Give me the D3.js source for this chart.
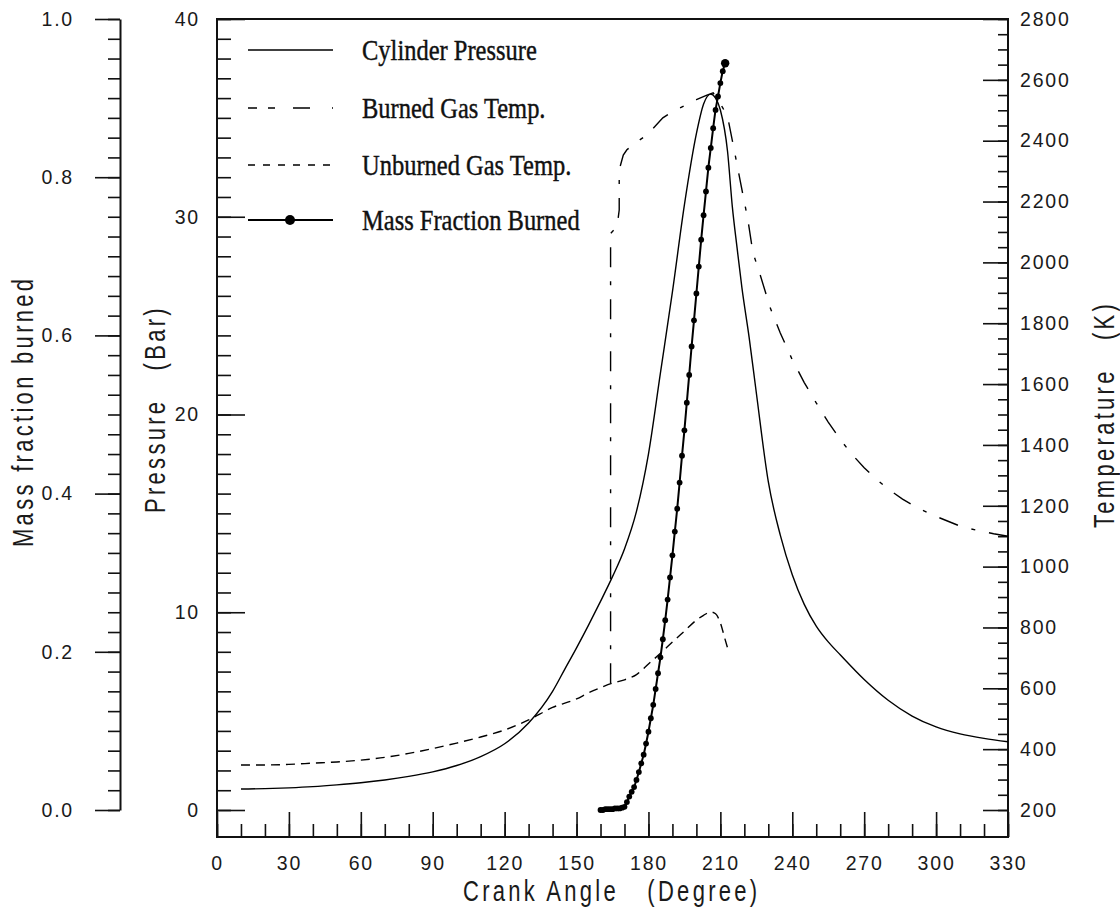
<!DOCTYPE html>
<html><head><meta charset="utf-8">
<script src="https://cdn.jsdelivr.net/npm/d3@7"></script>
<style>
html,body{margin:0;padding:0;background:#fff;}
svg{display:block;}
.tick text{font-family:"Liberation Sans",Arial,sans-serif;font-size:19.5px;letter-spacing:1.8px;fill:#1a1a1a;}
.tick line{stroke:#111;stroke-width:1.6px;}
.ttl{font-family:"Liberation Sans",Arial,sans-serif;font-size:22px;letter-spacing:3.3px;fill:#1a1a1a;white-space:pre;}
.leg{font-family:"Liberation Serif","Times New Roman",serif;font-size:24.5px;fill:#111;stroke:#111;stroke-width:0.35px;white-space:pre;}
</style></head><body>
<svg id="chart" width="1120" height="908"></svg>
<script>
// ---------- data ----------
const angleTicks = [0,30,60,90,120,150,180,210,240,270,300,330];
const pressureTicks = [0,10,20,30,40];
const tempTicks = [200,400,600,800,1000,1200,1400,1600,1800,2000,2200,2400,2600,2800];
const mfbTicks = [0,0.2,0.4,0.6,0.8,1.0];

const legendLabels = ["Cylinder Pressure","Burned Gas Temp.","Unburned Gas Temp.","Mass Fraction Burned"];

// Cylinder pressure (bar) vs crank angle (deg)
const angleP = [10,20,30,40,50,60,70,80,90,100,110,120,130,140,145,150,155,160,165,170,175,180,185,190,195,200,203,206,208,210,213,215,217,219,222,225,230,235,240,245,250,255,260,270,280,290,300,310,320,330];
const pressure = [1.06,1.08,1.12,1.18,1.27,1.38,1.52,1.70,1.93,2.25,2.70,3.35,4.4,6.0,7.1,8.2,9.35,10.55,11.8,13.2,15.1,18.0,22.1,26.2,30.6,34.2,35.7,36.2,36.0,35.4,33.3,30.5,28.4,26.4,23.9,21.1,16.6,13.9,11.9,10.4,9.3,8.5,7.85,6.6,5.55,4.75,4.2,3.85,3.62,3.45];

// Burned gas temperature (K)
const angleB = [164.2,164.2,166.9,167.8,167.8,169.5,171,175,179.4,186,190,195,200,204.4,207,209,211,213,215,217,218.2,221.5,223.6,226,230.7,235,240,245,250,255,260,265,270,275,280,286,293,300,311,318,324,330];
const burnedT = [617,2095,2117,2172,2304,2353,2370,2395,2419,2475,2495,2515,2535,2550,2557,2535,2508,2480,2400,2320,2271,2139,2031,1975,1853,1768,1680,1605,1538,1475,1418,1368,1325,1288,1255,1222,1190,1165,1130,1118,1108,1100];

// Unburned gas temperature (K)
const angleU = [10,20,30,40,50,60,70,80,90,100,110,120,130,140,150,155,160,165,170,175,180,185,190,195,200,203,206,208,210,212,213];
const unburnedT = [348,348,350,354,358,364,373,386,402,420,440,463,496,537,565,585,602,617,628,645,680,715,752,788,824,840,851,845,815,760,733];

// Mass fraction burned
const angleM = [160,161,162,163,164,165,166,167,168,169,170,171,172,173,174,175,176,177,178,179,180,181,182,183,184,185,186,187,188,189,190,191,192,193,194,195,196,197,198,199,200,201,202,203,204,205,206,207,208,209,210,211,212];
const mfb = [0.000,0.000,0.001,0.001,0.001,0.001,0.002,0.002,0.002,0.003,0.004,0.010,0.017,0.023,0.029,0.038,0.048,0.059,0.070,0.084,0.099,0.116,0.133,0.153,0.173,0.193,0.216,0.240,0.266,0.294,0.322,0.352,0.381,0.414,0.448,0.480,0.515,0.550,0.586,0.619,0.653,0.687,0.721,0.752,0.782,0.812,0.837,0.862,0.885,0.902,0.919,0.934,0.944];

// ---------- chart ----------
const svg = d3.select("#chart");
const L = 217, R = 1008, T = 19, B = 837, Y0 = 810;
const x = d3.scaleLinear().domain([0,330]).range([L,R]);
const yP = d3.scaleLinear().domain([0,40]).range([Y0,T]);
const yT = d3.scaleLinear().domain([200,2800]).range([Y0,T]);
const yM = d3.scaleLinear().domain([0,1]).range([Y0,T]);

svg.append("rect").attr("width",1120).attr("height",908).attr("fill","#fff");

function minorVals(a,b,s){const v=[];for(let t=a;t<=b+1e-9;t+=s)v.push(+t.toFixed(4));return v;}

// bottom axis
svg.append("g").attr("transform",`translate(0,${B})`)
  .call(d3.axisBottom(x).tickValues(minorVals(0,330,10)).tickSize(-13).tickFormat(""))
  .call(g=>g.select(".domain").remove());
svg.append("g").attr("transform",`translate(0,${B})`)
  .call(d3.axisBottom(x).tickValues(angleTicks).tickSize(-25).tickSizeOuter(0).tickPadding(19).tickFormat(d3.format("d")))
  .call(g=>g.select(".domain").remove());

// pressure axis
svg.append("g").attr("transform",`translate(${L},0)`)
  .call(d3.axisLeft(yP).tickValues(minorVals(0,40,1)).tickSize(-14).tickFormat(""))
  .call(g=>g.select(".domain").remove());
svg.append("g").attr("transform",`translate(${L},0)`)
  .call(d3.axisLeft(yP).tickValues(pressureTicks).tickSize(-28).tickSizeOuter(0).tickPadding(17).tickFormat(d3.format("d")))
  .call(g=>g.select(".domain").remove());

// temperature axis
svg.append("g").attr("transform",`translate(${R},0)`)
  .call(d3.axisRight(yT).tickValues(minorVals(200,2800,50)).tickSize(-10).tickFormat(""))
  .call(g=>g.select(".domain").remove());
svg.append("g").attr("transform",`translate(${R},0)`)
  .call(d3.axisRight(yT).tickValues(tempTicks).tickSize(-25).tickSizeOuter(0).tickPadding(12).tickFormat(d3.format("d")))
  .call(g=>g.select(".domain").remove());

// mass fraction axis
svg.append("g").attr("transform",`translate(120,0)`)
  .call(d3.axisLeft(yM).tickValues(minorVals(0,1,0.025)).tickSize(12).tickFormat(""))
  .call(g=>g.select(".domain").remove());
svg.append("g").attr("transform",`translate(120,0)`)
  .call(d3.axisLeft(yM).tickValues(mfbTicks).tickSize(25).tickSizeOuter(0).tickPadding(21).tickFormat(d3.format(".1f")))
  .call(g=>g.select(".domain").attr("stroke","#111").attr("stroke-width",2));

// frame
svg.append("rect").attr("x",L).attr("y",T).attr("width",R-L).attr("height",B-T)
  .attr("fill","none").attr("stroke","#111").attr("stroke-width",2);

// ---------- series ----------
const lineP = d3.line().x(d=>x(d[0])).y(d=>yP(d[1])).curve(d3.curveMonotoneX);
const lineU = d3.line().x(d=>x(d[0])).y(d=>yT(d[1])).curve(d3.curveMonotoneX);
const lineB = d3.line().x(d=>x(d[0])).y(d=>yT(d[1])).curve(d3.curveLinear);
const lineM = d3.line().x(d=>x(d[0])).y(d=>yM(d[1])).curve(d3.curveMonotoneX);

svg.append("path").datum(d3.zip(angleP,pressure)).attr("d",lineP)
  .attr("fill","none").attr("stroke","#000").attr("stroke-width",1.4);
svg.append("path").datum(d3.zip(angleB,burnedT)).attr("d",lineB)
  .attr("fill","none").attr("stroke","#000").attr("stroke-width",1.4).attr("stroke-dasharray","20,14,4,14");
svg.append("path").datum(d3.zip(angleU,unburnedT)).attr("d",lineU)
  .attr("fill","none").attr("stroke","#000").attr("stroke-width",1.4).attr("stroke-dasharray","9,6");
const mData = d3.zip(angleM,mfb);
svg.append("path").datum(mData).attr("d",lineM)
  .attr("fill","none").attr("stroke","#000").attr("stroke-width",2);
svg.append("g").selectAll("circle").data(mData).join("circle")
  .attr("cx",d=>x(d[0])).attr("cy",d=>yM(d[1]))
  .attr("r",(d,i)=>i===mData.length-1?4.2:2.9).attr("fill","#000");

// ---------- legend ----------
const legY = [50,108,165,220];
const legDash = [null,"9,11,7,18,17,22,2,1","7,8",null];
const leg = svg.append("g");
legendLabels.forEach((lab,i)=>{
  leg.append("line").attr("x1",248).attr("x2",333).attr("y1",legY[i]).attr("y2",legY[i])
    .attr("stroke","#000").attr("stroke-width",i===3?2:1.5)
    .attr("stroke-dasharray",legDash[i]);
  if(i===3) leg.append("circle").attr("cx",290).attr("cy",legY[i]).attr("r",5).attr("fill","#000");
  leg.append("text").attr("class","leg")
    .attr("transform",`translate(362,${legY[i]+9.5}) scale(1,1.18)`).text(lab);
});

// ---------- axis titles ----------
svg.append("text").attr("class","ttl").attr("transform","translate(463,901) scale(1,1.3)")
  .text("Crank Angle   (Degree)");
svg.append("text").attr("class","ttl").attr("transform","translate(33,547) rotate(-90) scale(1,1.33)")
  .text("Mass fraction burned");
svg.append("text").attr("class","ttl").attr("transform","translate(165,513) rotate(-90) scale(1,1.33)")
  .text("Pressure   (Bar)");
svg.append("text").attr("class","ttl").attr("transform","translate(1114,528) rotate(-90) scale(1,1.33)")
  .text("Temperature   (K)");
</script>
</body></html>
